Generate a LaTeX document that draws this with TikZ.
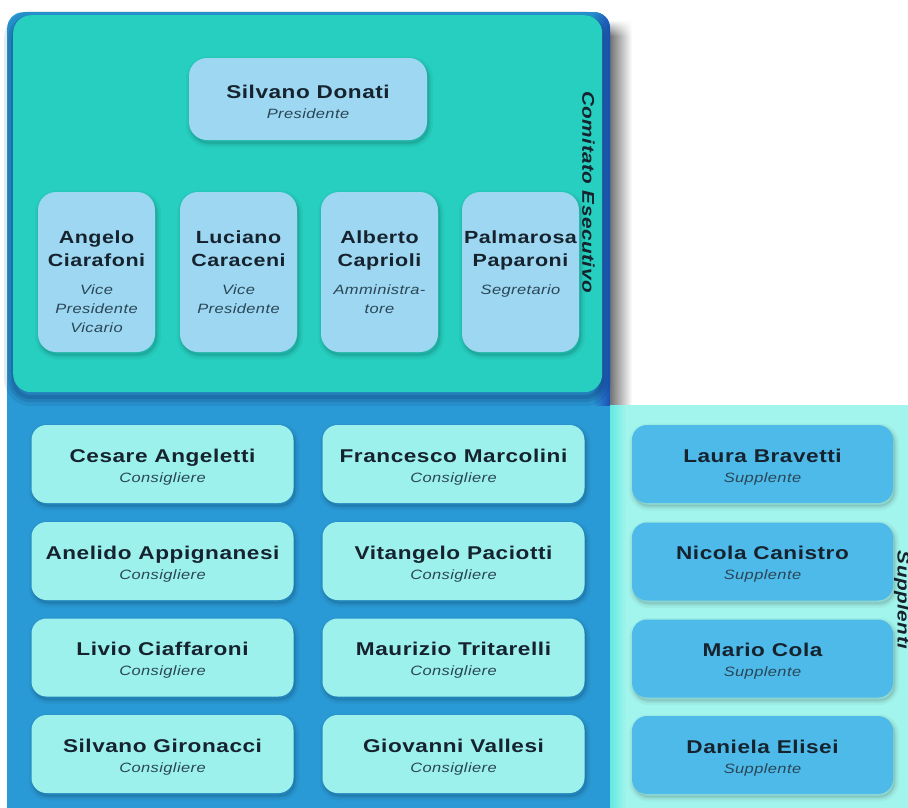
\documentclass[tikz,border=0pt]{standalone}
\usepackage{fontspec}
\setmainfont{Liberation Sans}
\newfontfamily\orgfont[FakeStretch=1.22,LetterSpace=3]{Liberation Sans}
\usetikzlibrary{fadings}
\definecolor{bgblue}{HTML}{2A9AD6}
\definecolor{edgeblue}{HTML}{1C4FB4}
\definecolor{cteal}{HTML}{26CFBF}
\definecolor{cpale}{HTML}{9DD7F1}
\definecolor{caqua}{HTML}{9CF1EC}
\definecolor{csuppbg}{HTML}{A2F5EC}
\definecolor{csuppedge}{HTML}{62E9E1}
\definecolor{csupp}{HTML}{4DBAE9}
\definecolor{cname}{HTML}{16232F}
\definecolor{crole}{HTML}{2A4656}
\definecolor{cshadow}{HTML}{0A2A60}
\newcommand\nmfs{\orgfont\fontsize{18.5}{23}\selectfont\bfseries\upshape\color{cname}}
\newcommand\nmfsv{\orgfont\fontsize{17.6}{23}\selectfont\bfseries\upshape\color{cname}}
\newcommand\rlfs{\orgfont\fontsize{13.5}{19}\selectfont\mdseries\itshape\color{crole}}
\newcommand\nmtop{\rule{0pt}{19pt}}
\begin{document}
\begin{tikzpicture}[x=1pt,y=-1pt,
  softsh/.style={
    preaction={draw=black, line width=9pt, draw opacity=0.035, transform canvas={xshift=1.5pt,yshift=-3pt}},
    preaction={draw=black, line width=5pt, draw opacity=0.045, transform canvas={xshift=1.5pt,yshift=-3pt}},
    preaction={draw=black, line width=2pt, draw opacity=0.06, fill=black, fill opacity=0.06, transform canvas={xshift=1.5pt,yshift=-3pt}}},
  tealsh/.style={
    preaction={draw=cshadow, line width=18pt, draw opacity=0.10, transform canvas={yshift=-5pt}},
    preaction={draw=cshadow, line width=10pt, draw opacity=0.14, transform canvas={yshift=-5pt}},
    preaction={draw=cshadow, line width=4pt, draw opacity=0.18, transform canvas={yshift=-5pt}}},
  card/.style={rectangle, rounded corners=15pt, inner sep=0pt, align=center,
    font=\fontsize{13}{20}\selectfont, softsh},
  cons/.style={card, fill=caqua, minimum width=262pt, minimum height=78pt},
  supp/.style={card, fill=csupp, minimum width=261pt, minimum height=78pt},
  vice/.style={card, fill=cpale, minimum width=117pt, minimum height=160pt, rounded corners=18pt},
  pres/.style={card, fill=cpale, minimum width=238pt, minimum height=82pt, rounded corners=18pt},
  vtext/.style={anchor=north, inner sep=0pt, text width=130pt, align=center},
  sidelabel/.style={rotate=-90, inner sep=0pt, text=cname,
    font=\orgfont\fontsize{17}{20}\selectfont\bfseries\itshape}
]
\useasboundingbox (0,0) rectangle (908,807);
\fill[white] (0,0) rectangle (908,807);

% shadow of the board on its right side
\shade[left color=black!55, right color=white, path fading=north] (610,20) rectangle (632,36);
\shade[left color=black!55, right color=white] (610,36) rectangle (632,405);

% main blue board
\node[fill=bgblue, rounded corners=16pt, minimum width=603pt, minimum height=830pt,
  anchor=north west, inner sep=0pt] (board) at (7,12) {};
\begin{scope}
  \clip[rounded corners=16pt] (7,12) rectangle (610,840);
  \shade[left color=bgblue, right color=edgeblue] (592,12) rectangle (610,405);
\end{scope}

% supplenti panel
\node[fill=csuppbg, anchor=north west, minimum width=310pt, minimum height=420pt, inner sep=0pt]
  (sp) at (610,405) {};
\shade[left color=csuppedge, right color=csuppbg] (610,405) rectangle (626,830);

% comitato esecutivo panel
\node[fill=cteal, rounded corners=18pt, minimum width=589pt, minimum height=377pt,
  anchor=north west, inner sep=0pt, tealsh] (ce) at (13,15) {};

\node[sidelabel] (lce) at (588.5,192) {Comitato Esecutivo};
\node[sidelabel] (lsp) at (902,600) {Supplenti};

% presidente
\node[pres] (p) at (308,99) {{\nmfs\nmtop Silvano Donati}\\{\rlfs Presidente}};

% vice boxes
\node[vice] (v1) at (96.5,272) {};
\node[vice] (v2) at (238.5,272) {};
\node[vice] (v3) at (379.5,272) {};
\node[vice] (v4) at (520.5,272) {};
\node[vtext] (t1) at (96.5,230.5) {\nmfsv Angelo\\Ciarafoni\par\vspace{9pt}\rlfs Vice\\Presidente\\Vicario\par};
\node[vtext] (t2) at (238.5,230.5) {\nmfsv Luciano\\Caraceni\par\vspace{9pt}\rlfs Vice\\Presidente\par};
\node[vtext] (t3) at (379.5,230.5) {\nmfsv Alberto\\Caprioli\par\vspace{9pt}\rlfs Amministra-\\tore\par};
\node[vtext] (t4) at (520.5,230.5) {\nmfsv Palmarosa\\Paparoni\par\vspace{9pt}\rlfs Segretario\par};

% consiglieri
\node[cons] (c1) at (162.5,464) {{\nmfs\nmtop Cesare Angeletti}\\{\rlfs Consigliere}};
\node[cons] (c2) at (162.5,561) {{\nmfs\nmtop Anelido Appignanesi}\\{\rlfs Consigliere}};
\node[cons] (c3) at (162.5,657.5) {{\nmfs\nmtop Livio Ciaffaroni}\\{\rlfs Consigliere}};
\node[cons] (c4) at (162.5,754) {{\nmfs\nmtop Silvano Gironacci}\\{\rlfs Consigliere}};
\node[cons] (c5) at (453.5,464) {{\nmfs\nmtop Francesco Marcolini}\\{\rlfs Consigliere}};
\node[cons] (c6) at (453.5,561) {{\nmfs\nmtop Vitangelo Paciotti}\\{\rlfs Consigliere}};
\node[cons] (c7) at (453.5,657.5) {{\nmfs\nmtop Maurizio Tritarelli}\\{\rlfs Consigliere}};
\node[cons] (c8) at (453.5,754) {{\nmfs\nmtop Giovanni Vallesi}\\{\rlfs Consigliere}};

% supplenti
\node[supp] (s1) at (762.5,464) {{\nmfs\nmtop Laura Bravetti}\\{\rlfs Supplente}};
\node[supp] (s2) at (762.5,561.5) {{\nmfs\nmtop Nicola Canistro}\\{\rlfs Supplente}};
\node[supp] (s3) at (762.5,658.5) {{\nmfs\nmtop Mario Cola}\\{\rlfs Supplente}};
\node[supp] (s4) at (762.5,755) {{\nmfs\nmtop Daniela Elisei}\\{\rlfs Supplente}};
\end{tikzpicture}
\end{document}
